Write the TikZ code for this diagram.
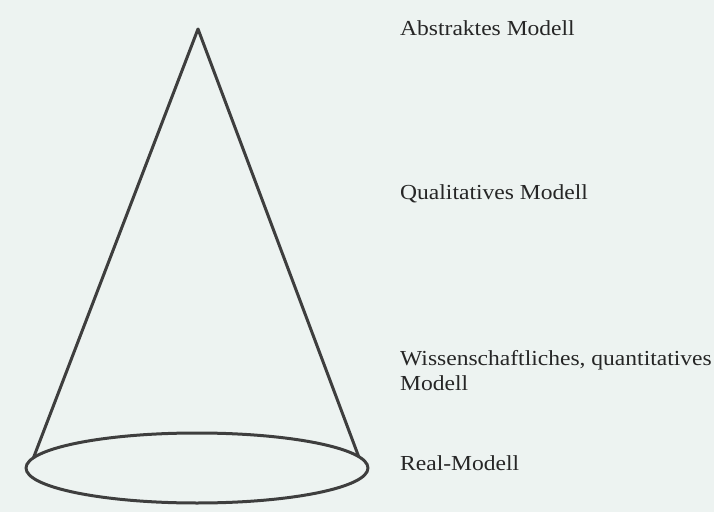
\documentclass[tikz,border=0pt]{standalone}
\usepackage{fontspec}
\setmainfont[FakeStretch=1.1]{Liberation Serif}
\definecolor{bgc}{RGB}{237,243,241}
\definecolor{linec}{RGB}{62,62,62}
\definecolor{txtc}{RGB}{38,38,38}
\begin{document}
\begin{tikzpicture}[x=1bp,y=-1bp,
  conestroke/.style={draw=linec,line width=3bp,line join=round,line cap=round},
  label/.style={anchor=base west,inner sep=0pt,text=txtc,font=\fontsize{21.4bp}{24bp}\selectfont}]
\fill[bgc] (0,0) rectangle (714,512);
\useasboundingbox (0,0) rectangle (714,512);
\coordinate (apex) at (198,29);
\coordinate (base) at (197,468);
\path (base) ++(197:171 and 35) coordinate (tl);
\path (base) ++(341:171 and 35) coordinate (tr);
\draw[conestroke] (tl) -- (apex) -- (tr);
\draw[conestroke] (base) ellipse [x radius=171, y radius=35];
\node[label] (abs) at (400,36) {Abstraktes Modell};
\node[label] (qual) at (400,200) {Qualitatives Modell};
\node[label] (wiss) at (400,365) {Wissenschaftliches, quantitatives};
\node[label] (wiss2) at (400,390) {Modell};
\node[label] (real) at (400,470) {Real-Modell};
\end{tikzpicture}
\end{document}
